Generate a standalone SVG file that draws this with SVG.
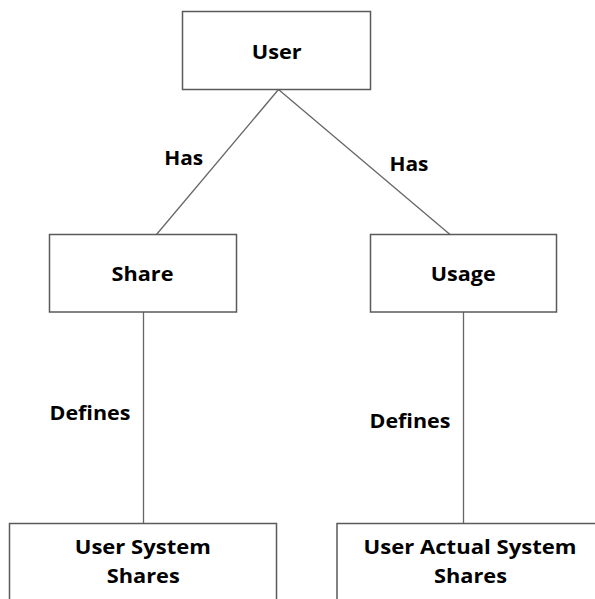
<svg xmlns="http://www.w3.org/2000/svg" width="595" height="599" viewBox="0 0 595 599">
<style>
.box{fill:#fff;stroke:#5a5a5a;stroke-width:1.5}
.ln{stroke:#666;stroke-width:1.3;fill:none}
text{font-family:"Open Sans","Noto Sans","Liberation Sans",sans-serif;font-weight:bold;font-size:20px;fill:#000;text-anchor:middle}
</style>
<rect width="595" height="599" fill="#fff"/>
<g id="connectors">
<line class="ln" x1="278.5" y1="89.5" x2="156.5" y2="234.5"/>
<line class="ln" x1="278.5" y1="89.5" x2="450" y2="234.5"/>
<line class="ln" x1="143.5" y1="312" x2="143.5" y2="523"/>
<line class="ln" x1="463.5" y1="312" x2="463.5" y2="523"/>
<text x="183.7" y="165" textLength="39" lengthAdjust="spacingAndGlyphs">Has</text>
<text x="409" y="170.7" textLength="39" lengthAdjust="spacingAndGlyphs">Has</text>
<text x="90" y="420" textLength="81" lengthAdjust="spacingAndGlyphs">Defines</text>
<text x="410" y="427.7" textLength="81" lengthAdjust="spacingAndGlyphs">Defines</text>
</g>
<g id="user">
<rect class="box" x="182.5" y="11.5" width="188" height="78"/>
<text x="276.7" y="59.3" textLength="50" lengthAdjust="spacingAndGlyphs">User</text>
</g>
<g id="share">
<rect class="box" x="49.5" y="234.5" width="187" height="77.5"/>
<text x="142.5" y="281" textLength="62" lengthAdjust="spacingAndGlyphs">Share</text>
</g>
<g id="usage">
<rect class="box" x="370.5" y="234.5" width="186" height="77.5"/>
<text x="463.3" y="281" textLength="65" lengthAdjust="spacingAndGlyphs">Usage</text>
</g>
<g id="user-system-shares">
<rect class="box" x="9.5" y="523.5" width="267" height="90"/>
<text x="142.8" y="554.3" textLength="136" lengthAdjust="spacingAndGlyphs">User System</text>
<text x="143.3" y="583.3" textLength="73" lengthAdjust="spacingAndGlyphs">Shares</text>
</g>
<g id="user-actual-system-shares">
<rect class="box" x="337" y="523.5" width="270" height="90"/>
<text x="470" y="554.3" textLength="213" lengthAdjust="spacingAndGlyphs">User Actual System</text>
<text x="470.5" y="583.3" textLength="73" lengthAdjust="spacingAndGlyphs">Shares</text>
</g>
</svg>
